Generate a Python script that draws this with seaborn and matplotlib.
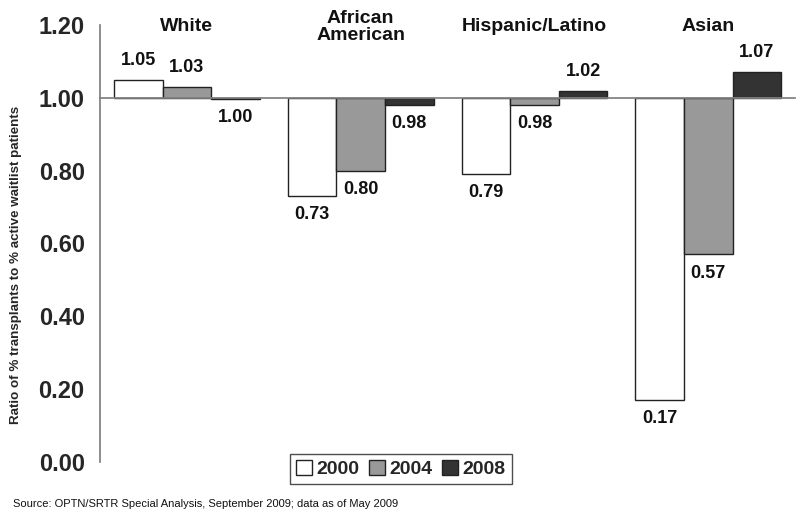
import numpy as np
import pandas as pd
import matplotlib
matplotlib.use("Agg")
import matplotlib.pyplot as plt
from matplotlib.patches import Patch
import seaborn as sns

groups = ["White", "African\nAmerican", "Hispanic/Latino", "Asian"]
years = ["2000", "2004", "2008"]
ratio_2000 = [1.05, 0.73, 0.79, 0.17]
ratio_2004 = [1.03, 0.80, 0.98, 0.57]
ratio_2008 = [0.996, 0.98, 1.02, 1.07]
bar_colors = ["#ffffff", "#999999", "#333333"]
yticks = [0.0, 0.2, 0.4, 0.6, 0.8, 1.0, 1.2]

sns.set_theme(style="white")
plt.rcParams["font.family"] = ["Liberation Sans", "DejaVu Sans"]

rows = []
for yr, vals in zip(years, [ratio_2000, ratio_2004, ratio_2008]):
    for g, v in zip(groups, vals):
        rows.append({"group": g, "year": yr, "ratio": v, "diff": v - 1.0})
df = pd.DataFrame(rows)

fig = plt.figure(figsize=(8, 5.2), dpi=100)
ax = fig.add_axes([0.125, 0.1115, 0.869, 0.8405])

# bars hang from the 1.00 baseline
sns.barplot(data=df, x="group", y="diff", hue="year", order=groups, hue_order=years,
            palette=bar_colors, width=0.84, edgecolor="#222222", linewidth=1.0,
            bottom=1.0, saturation=1, ax=ax, legend=False)

ax.set_xlim(-0.5, 3.5)
ax.set_ylim(0, 1.2)

# value labels
for cont, yr in zip(ax.containers, years):
    vals = df[df.year == yr].set_index("group").loc[groups, "ratio"].values
    for patch, v in zip(cont.patches, vals):
        cx = patch.get_x() + patch.get_width() / 2
        if v >= 1.0:
            ax.text(cx, v + 0.03, f"{v:.2f}", ha="center", va="bottom",
                    fontsize=13, fontweight="bold", color="#111111")
        else:
            ax.text(cx, v - 0.028, f"{v:.2f}", ha="center", va="top",
                    fontsize=13, fontweight="bold", color="#111111")

# category labels at the top
for i, g in enumerate(groups):
    ax.text(i, 1.195, g, ha="center", va="center", fontsize=14,
            fontweight="bold", color="#111111", linespacing=1.0, clip_on=False)

# axes styling
for s in ["top", "right"]:
    ax.spines[s].set_visible(False)
ax.spines["bottom"].set_position(("data", 1.0))
ax.spines["bottom"].set_color("#808080")
ax.spines["left"].set_color("#808080")
ax.set_xticks([0.5, 1.5, 2.5, 3.5])
ax.set_xticklabels([])
ax.tick_params(axis="x", direction="out", length=7, color="#808080", width=1)
ax.set_yticks(yticks)
ax.set_yticklabels([f"{t:.2f}" for t in yticks], fontsize=17, fontweight="bold")
ax.tick_params(axis="y", direction="out", length=5, color="#808080", width=1, pad=6)
ax.set_xlabel("")
ax.set_ylabel("Ratio of % transplants to % active waitlist patients",
              fontsize=9.6, fontweight="bold")
ax.yaxis.set_label_coords(-0.112, 0.45)

handles = [Patch(facecolor=c, edgecolor="#222222", linewidth=1.0) for c in bar_colors]
leg = ax.legend(handles, years, loc="center", bbox_to_anchor=(0.433, -0.016), ncol=3,
                frameon=True, fancybox=False, edgecolor="#222222",
                prop={"weight": "bold", "size": 14}, handlelength=0.8,
                handleheight=0.8, handletextpad=0.25, columnspacing=0.5,
                borderpad=0.3)
leg.get_frame().set_linewidth(1.0)

fig.text(0.016, 0.025, "Source: OPTN/SRTR Special Analysis, September 2009; data as of May 2009",
         fontsize=8, color="#111111")

fig.savefig("out.png", dpi=100)
